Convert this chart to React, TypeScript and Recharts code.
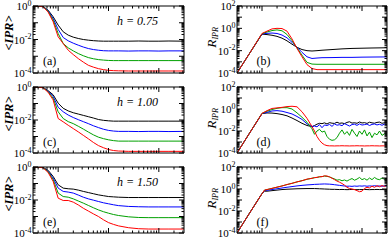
import React from 'react';
import { LineChart, Line, XAxis, YAxis } from 'recharts';

// ---------------- axes ----------------
const timeDomain = [0.3162, 316.2];
const timeMajorTicks = [1, 10, 100];
const timeMinorTicks = [0.4, 0.5, 0.6, 0.7, 0.8, 0.9, 2, 3, 4, 5, 6, 7, 8, 9, 20, 30, 40, 50, 60, 70, 80, 90, 200, 300];
const minorMultipliers = [2, 3, 4, 5, 6, 7, 8, 9];

const ipaDomain = [1e-4, 1];
const ipaDecades = [1e-4, 1e-3, 1e-2, 1e-1, 1];
const ipaLabels = [1e-4, 1e-2, 1];

const ratioDomain = [1e-4, 100];
const ratioDecades = [1e-4, 1e-3, 1e-2, 1e-1, 1, 10, 100];
const ratioLabels = [1e-4, 1e-2, 1, 100];

// ---------------- data (log10 values) ----------------
const logTimeLeft = [-0.5, -0.4, -0.3, -0.2, -0.1, 0, 0.1, 0.2, 0.3, 0.4, 0.5, 0.6, 0.7, 0.8, 0.9, 1.0, 1.1, 1.2, 1.4, 1.6, 1.8, 2.0, 2.2, 2.5];

// (a) h = 0.75
const aBlack = [0, 0, -0.03, -0.25, -0.64, -1.14, -1.54, -1.74, -1.86, -1.94, -2.0, -2.04, -2.07, -2.09, -2.1, -2.1, -2.1, -2.1, -2.1, -2.09, -2.1, -2.1, -2.09, -2.1];
const aBlue = [0, 0, -0.03, -0.28, -0.74, -1.4, -1.88, -2.08, -2.22, -2.34, -2.45, -2.54, -2.6, -2.64, -2.67, -2.68, -2.68, -2.68, -2.69, -2.68, -2.68, -2.69, -2.68, -2.68];
const aGreen = [0, 0, -0.04, -0.32, -0.84, -1.64, -2.24, -2.5, -2.68, -2.84, -2.97, -3.08, -3.15, -3.2, -3.23, -3.25, -3.26, -3.26, -3.26, -3.26, -3.26, -3.26, -3.26, -3.26];
const aRed = [0, 0, -0.05, -0.36, -0.94, -1.84, -2.24, -2.64, -2.9, -3.14, -3.35, -3.54, -3.65, -3.74, -3.8, -3.84, -3.86, -3.87, -3.88, -3.88, -3.88, -3.88, -3.88, -3.88];

// (c) h = 1.00
const cBlack = [0, 0, -0.03, -0.22, -0.47, -0.98, -1.29, -1.45, -1.56, -1.64, -1.72, -1.8, -1.88, -1.97, -2.02, -2.05, -2.07, -2.07, -2.07, -2.07, -2.07, -2.07, -2.07, -2.07];
const cBlue = [0, 0, -0.03, -0.25, -0.57, -1.23, -1.5, -1.7, -1.85, -1.98, -2.1, -2.22, -2.35, -2.46, -2.56, -2.63, -2.67, -2.69, -2.69, -2.7, -2.69, -2.69, -2.7, -2.69];
const cGreen = [0, 0, -0.04, -0.28, -0.68, -1.5, -1.91, -2.1, -2.22, -2.38, -2.55, -2.73, -2.9, -3.04, -3.13, -3.2, -3.25, -3.28, -3.28, -3.28, -3.28, -3.28, -3.28, -3.28];
const cRed = [0, 0, -0.05, -0.32, -0.78, -1.91, -2.11, -2.32, -2.52, -2.72, -2.93, -3.14, -3.36, -3.55, -3.68, -3.79, -3.85, -3.88, -3.9, -3.9, -3.9, -3.9, -3.9, -3.9];

// (e) h = 1.50
const eBlack = [0, 0, -0.03, -0.2, -0.57, -1.08, -1.28, -1.32, -1.34, -1.4, -1.48, -1.55, -1.62, -1.69, -1.74, -1.79, -1.81, -1.83, -1.85, -1.85, -1.85, -1.85, -1.85, -1.85];
const eBlue = [0, 0, -0.03, -0.25, -0.67, -1.28, -1.48, -1.52, -1.58, -1.7, -1.83, -1.93, -2.01, -2.09, -2.17, -2.23, -2.29, -2.34, -2.39, -2.41, -2.42, -2.42, -2.42, -2.42];
const eGreen = [0, 0, -0.04, -0.28, -0.77, -1.58, -1.79, -1.83, -1.93, -2.06, -2.19, -2.33, -2.47, -2.6, -2.71, -2.8, -2.88, -2.94, -3.02, -3.06, -3.07, -3.07, -3.07, -3.07];
const eRed = [0, 0, -0.05, -0.33, -0.87, -1.89, -2.03, -2.03, -2.13, -2.3, -2.5, -2.67, -2.84, -3.0, -3.2, -3.37, -3.48, -3.57, -3.68, -3.74, -3.76, -3.76, -3.76, -3.76];

// (b)
const logTimeB = [-0.5, -0.25, 0, 0.1, 0.2, 0.3, 0.4, 0.5, 0.6, 0.7, 0.8, 0.9, 1.0, 1.1, 1.2, 1.4, 1.6, 1.8, 2.0, 2.2, 2.5];
const bBlack = [-4, -2.25, -0.52, -0.56, -0.62, -0.72, -0.88, -1.12, -1.42, -1.7, -1.9, -2.0, -2.03, -2.0, -1.96, -1.9, -1.84, -1.8, -1.78, -1.76, -1.74];
const bBlue = [-4, -2.25, -0.5, -0.45, -0.42, -0.46, -0.6, -0.85, -1.25, -1.7, -2.15, -2.55, -2.7, -2.66, -2.63, -2.62, -2.6, -2.6, -2.58, -2.57, -2.56];
const bGreen = [-4, -2.25, -0.48, -0.33, -0.2, -0.14, -0.22, -0.55, -1.1, -1.75, -2.4, -3.05, -3.2, -3.22, -3.22, -3.22, -3.22, -3.22, -3.22, -3.22, -3.22];
const bRed = [-4, -2.25, -0.46, -0.25, -0.05, 0.0, -0.02, -0.25, -0.95, -1.8, -2.55, -3.25, -3.6, -3.7, -3.7, -3.7, -3.7, -3.7, -3.7, -3.7, -3.7];

// (d)
const logTimeD = [-0.5, -0.25, 0, 0.1, 0.2, 0.3, 0.4, 0.5, 0.6, 0.7, 0.8, 0.9, 1.0,
  1.05, 1.1, 1.15, 1.2, 1.25, 1.3, 1.35, 1.4, 1.45, 1.5, 1.55, 1.6, 1.65, 1.7, 1.75, 1.8, 1.85, 1.9, 1.95, 2.0,
  2.05, 2.1, 2.15, 2.2, 2.25, 2.3, 2.35, 2.4, 2.45, 2.5];
const dBlack = [-4, -2.2, -0.42, -0.36, -0.37, -0.42, -0.5, -0.62, -0.82, -1.05, -1.3, -1.5, -1.6,
  -1.5, -1.38, -1.3, -1.33, -1.26, -1.36, -1.24, -1.29, -1.31, -1.2, -1.3, -1.27, -1.33, -1.22, -1.16, -1.28, -1.25, -1.3, -1.18, -1.27,
  -1.24, -1.31, -1.2, -1.26, -1.29, -1.22, -1.19, -1.3, -1.25, -1.23];
const dBlue = [-4, -2.2, -0.42, -0.3, -0.18, -0.15, -0.2, -0.32, -0.45, -0.68, -0.95, -1.35, -1.6,
  -1.55, -1.62, -1.42, -1.7, -1.45, -1.5, -1.4, -1.58, -1.36, -1.47, -1.43, -1.52, -1.33, -1.44, -1.55, -1.41, -1.38, -1.49, -1.35, -1.46,
  -1.42, -1.37, -1.5, -1.4, -1.36, -1.45, -1.39, -1.48, -1.37, -1.42];
const dGreen = [-4, -2.2, -0.4, -0.2, -0.05, 0.06, 0.12, 0.12, 0.0, -0.35, -0.75, -1.2, -1.8,
  -2.3, -2.0, -1.85, -2.1, -2.0, -2.5, -2.75, -2.85, -2.8, -2.6, -2.2, -1.9, -2.3, -2.05, -2.4, -1.85, -2.2, -2.5, -2.0, -2.3,
  -1.9, -2.45, -2.1, -2.6, -2.2, -2.35, -2.0, -2.4, -2.25, -2.35];
const dRed = [-4, -2.2, -0.4, -0.15, 0.05, 0.1, 0.15, 0.22, 0.25, 0.2, -0.25, -0.85, -1.6,
  -2.0, -2.5, -2.85, -3.1, -3.25, -3.33, -3.35, -3.35, -3.36, -3.35, -3.35, -3.34, -3.35, -3.35, -3.36, -3.35, -3.35, -3.34, -3.35, -3.35,
  -3.36, -3.35, -3.35, -3.34, -3.35, -3.35, -3.36, -3.35, -3.35, -3.35];

// (f)
const logTimeF = [-0.5, -0.25, 0, 0.05, 0.1, 0.2, 0.3, 0.4, 0.5, 0.6, 0.7, 0.8, 0.9, 1.0,
  1.05, 1.1, 1.15, 1.2, 1.25, 1.3, 1.35, 1.4, 1.45, 1.5, 1.55, 1.6, 1.65, 1.7, 1.75, 1.8, 1.85, 1.9, 1.95, 2.0,
  2.05, 2.1, 2.15, 2.2, 2.25, 2.3, 2.35, 2.4, 2.45, 2.5];
const fBlack = [-4, -2.2, -0.42, -0.2, -0.2, -0.15, -0.1, -0.05, -0.02, 0.0, 0.02, 0.03, 0.04, 0.04,
  0.04, 0.03, 0.02, 0.01, 0.0, -0.01, -0.02, -0.03, -0.03, -0.04, -0.05, -0.04, -0.05, -0.06, -0.05, -0.04, -0.05, -0.06, -0.05, -0.05,
  -0.04, -0.05, -0.06, -0.05, -0.05, -0.04, -0.05, -0.05, -0.06, -0.05];
const fBlue = [-4, -2.2, -0.42, -0.15, -0.12, -0.05, 0.02, 0.09, 0.16, 0.22, 0.28, 0.33, 0.37, 0.4,
  0.42, 0.43, 0.44, 0.45, 0.46, 0.45, 0.44, 0.42, 0.39, 0.36, 0.33, 0.3, 0.27, 0.25, 0.26, 0.24, 0.27, 0.25, 0.28, 0.26,
  0.29, 0.25, 0.28, 0.26, 0.3, 0.26, 0.28, 0.25, 0.29, 0.27];
const fGreen = [-4, -2.2, -0.42, -0.1, -0.05, 0.05, 0.16, 0.28, 0.4, 0.52, 0.64, 0.76, 0.88, 0.98,
  1.02, 1.06, 1.1, 1.13, 1.17, 1.15, 1.1, 1.0, 0.92, 0.8, 0.85, 0.75, 0.82, 0.72, 0.85, 0.95, 0.8, 0.9, 1.05, 0.85,
  0.95, 0.8, 1.0, 0.85, 1.05, 0.9, 0.85, 1.0, 0.88, 0.95];
const fRed = [-4, -2.2, -0.42, -0.1, -0.05, 0.06, 0.17, 0.27, 0.41, 0.51, 0.65, 0.75, 0.9, 0.97,
  1.04, 1.05, 1.12, 1.12, 1.2, 1.18, 1.1, 0.98, 0.85, 0.72, 0.62, 0.5, 0.35, 0.15, 0.05, 0.0, -0.05, -0.15, -0.25, -0.2,
  0.05, 0.15, 0.1, 0.25, 0.15, 0.3, 0.2, 0.32, 0.22, 0.35];

// ---------------- helpers ----------------
const SERIES = [
  { key: 'black', color: '#000000' },
  { key: 'blue', color: '#0000ff' },
  { key: 'green', color: '#00a000' },
  { key: 'red', color: '#ff0000' },
];

function buildRows(logT: number[], k: number[], b: number[], g: number[], r: number[]) {
  return logT.map((u, i) => ({ t: 10 ** u, black: 10 ** k[i], blue: 10 ** b[i], green: 10 ** g[i], red: 10 ** r[i] }));
}

const withMinors = (decades: number[]) => {
  const out: number[] = [...decades];
  decades.slice(0, -1).forEach((d) => minorMultipliers.forEach((m) => out.push(m * d)));
  return out.sort((p, q) => p - q);
};

const timeTicks = [...timeMajorTicks, ...timeMinorTicks].sort((p, q) => p - q);
const ipaTicks = withMinors(ipaDecades);
const ratioTicks = withMinors(ratioDecades);

const MAJOR = 5;
const MINOR = 2.5;
const FONT = 'Liberation Serif, DejaVu Serif, serif';

const isDecade = (v: number) => {
  const e = Math.log10(v);
  return Math.abs(e - Math.round(e)) < 1e-6;
};

const BottomTick = (props: any) => {
  const { x, y, payload } = props;
  const len = isDecade(payload.value) ? MAJOR : MINOR;
  return <line x1={x} x2={x} y1={y} y2={y - len} stroke="#000" strokeWidth={1} />;
};
const TopTick = (props: any) => {
  const { x, y, payload } = props;
  const len = isDecade(payload.value) ? MAJOR : MINOR;
  return <line x1={x} x2={x} y1={y} y2={y + len} stroke="#000" strokeWidth={1} />;
};
const RightTick = (props: any) => {
  const { x, y, payload } = props;
  const len = isDecade(payload.value) ? MAJOR : MINOR;
  return <line x1={x} x2={x - len} y1={y} y2={y} stroke="#000" strokeWidth={1} />;
};
const makeLeftTick = (labels: number[]) => (props: any) => {
  const { x, y, payload } = props;
  const v = payload.value;
  const major = isDecade(v);
  const len = major ? MAJOR : MINOR;
  const exp = Math.round(Math.log10(v));
  const show = labels.some((l) => Math.abs(Math.log10(l) - Math.log10(v)) < 1e-6);
  return (
    <g>
      <line x1={x} x2={x + len} y1={y} y2={y} stroke="#000" strokeWidth={1} />
      {show && (
        <text x={x - 1.5} y={y + 4} textAnchor="end" fontFamily={FONT} fontSize={11} fill="#000">
          10<tspan dy={-4.5} fontSize={8}>{String(exp)}</tspan>
        </text>
      )}
    </g>
  );
};

type PanelProps = {
  left: number; top: number; plotW: number; plotH: number; plotLeft: number;
  rows: any[]; yDomain: number[]; yTicks: number[]; yLabels: number[];
};

const AX = 1; // axis band thickness

function Panel({ left, top, plotW, plotH, plotLeft, rows, yDomain, yTicks, yLabels }: PanelProps) {
  const mt = 8;
  const mb = 10;
  const width = 195;
  const height = plotH + mt + mb;
  const leftTick = makeLeftTick(yLabels);
  return (
    <div style={{ position: 'absolute', left, top: top - mt, width, height }}>
      <LineChart width={width} height={height} data={rows}
        margin={{ top: mt - AX, bottom: mb - AX, left: plotLeft - AX, right: width - plotLeft - plotW - AX }}
        style={{ overflow: 'visible' }}>
        <XAxis xAxisId="b" dataKey="t" type="number" scale="log" domain={timeDomain} allowDataOverflow
          ticks={timeTicks} interval={0} tick={BottomTick} tickLine={false} tickSize={0} tickMargin={0}
          height={AX} axisLine={{ stroke: '#000' }} orientation="bottom" />
        <XAxis xAxisId="t" dataKey="t" type="number" scale="log" domain={timeDomain} allowDataOverflow
          ticks={timeTicks} interval={0} tick={TopTick} tickLine={false} tickSize={0} tickMargin={0}
          height={AX} axisLine={{ stroke: '#000' }} orientation="top" />
        <YAxis yAxisId="l" type="number" scale="log" domain={yDomain} allowDataOverflow
          ticks={yTicks} interval={0} tick={leftTick} tickLine={false} tickSize={0} tickMargin={0}
          width={AX} axisLine={{ stroke: '#000' }} orientation="left" />
        <YAxis yAxisId="r" type="number" scale="log" domain={yDomain} allowDataOverflow
          ticks={yTicks} interval={0} tick={RightTick} tickLine={false} tickSize={0} tickMargin={0}
          width={AX} axisLine={{ stroke: '#000' }} orientation="right" />
        {SERIES.map((s) => (
          <Line key={s.key} xAxisId="b" yAxisId="l" dataKey={s.key} stroke={s.color} strokeWidth={1}
            dot={false} activeDot={false} isAnimationActive={false} type="linear" />
        ))}
      </LineChart>
    </div>
  );
}

const rowTops = [6, 87, 167];
const rowHeights = [67, 66, 66];
const hLabels = ['h = 0.75', 'h = 1.00', 'h = 1.50'];
const leftLetters = ['(a)', '(c)', '(e)'];
const rightLetters = ['(b)', '(d)', '(f)'];

export default function App() {
  const leftRows = [
    buildRows(logTimeLeft, aBlack, aBlue, aGreen, aRed),
    buildRows(logTimeLeft, cBlack, cBlue, cGreen, cRed),
    buildRows(logTimeLeft, eBlack, eBlue, eGreen, eRed),
  ];
  const rightRows = [
    buildRows(logTimeB, bBlack, bBlue, bGreen, bRed),
    buildRows(logTimeD, dBlack, dBlue, dGreen, dRed),
    buildRows(logTimeF, fBlack, fBlue, fGreen, fRed),
  ];
  return (
    <div style={{ position: 'absolute', left: 0, top: 0, width: 390, height: 242, background: '#fff' }}>
      {rowTops.map((top, i) => (
        <React.Fragment key={i}>
          <Panel left={0} top={top} plotW={151} plotH={rowHeights[i]} plotLeft={33}
            rows={leftRows[i]} yDomain={ipaDomain} yTicks={ipaTicks} yLabels={ipaLabels} />
          <Panel left={195} top={top} plotW={150} plotH={rowHeights[i]} plotLeft={42}
            rows={rightRows[i]} yDomain={ratioDomain} yTicks={ratioTicks} yLabels={ratioLabels} />
        </React.Fragment>
      ))}
      <svg width={390} height={242} style={{ position: 'absolute', left: 0, top: 0, pointerEvents: 'none' }}>
        {rowTops.map((top, i) => (
          <g key={i} fontFamily={FONT} fill="#000">
            <text transform={`translate(13, ${top + 27}) rotate(-90)`} textAnchor="middle" fontSize={12.5}
              fontWeight="bold" fontStyle="italic">&lt;IPR&gt;</text>
            <text transform={`translate(216, ${top + 31.5}) rotate(-90)`} textAnchor="middle">
              <tspan fontSize={13.5} fontStyle="italic">R</tspan>
              <tspan fontSize={8} fontStyle="italic" dy={2}>IPR</tspan>
            </text>
            <text x={43} y={top + 59} fontSize={12}>{leftLetters[i]}</text>
            <text x={256.5} y={top + 59} fontSize={12}>{rightLetters[i]}</text>
            <text x={117} y={top + 19} fontSize={12} fontStyle="italic">{hLabels[i]}</text>
          </g>
        ))}
      </svg>
    </div>
  );
}
